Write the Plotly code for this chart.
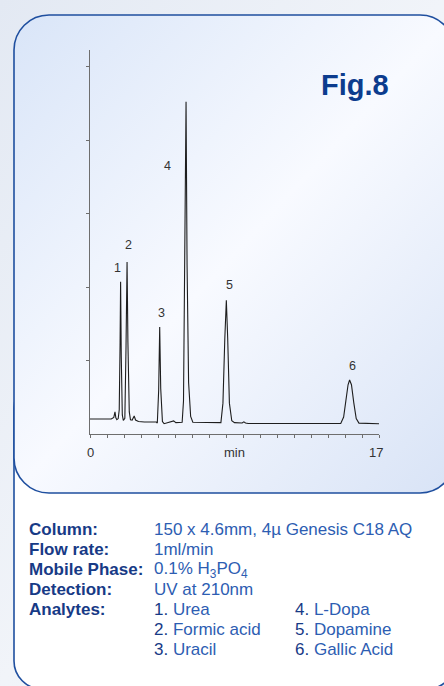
import base64
import plotly.graph_objects as go

W, H = 444, 686

# Chromatogram trace: retention time (min) and detector response (arbitrary units)
time_min = [
    0.00, 1.25, 1.40, 1.47, 1.52, 1.58, 1.66,
    1.72, 1.77, 1.80, 1.84, 1.90, 1.96, 2.05,
    2.12, 2.18, 2.23, 2.31, 2.38, 2.48, 2.60, 2.68, 2.85, 3.20,
    3.90, 3.96, 4.04, 4.10, 4.16, 4.26, 4.36, 4.60, 4.92, 5.05, 5.42,
    5.50, 5.58, 5.65, 5.71, 5.80, 5.92, 6.05,
    7.70, 7.82, 7.93, 8.02, 8.10, 8.20, 8.34, 8.50,
    8.95, 9.05, 9.15, 9.30,
    14.75, 14.92, 15.05, 15.18, 15.27, 15.38, 15.52, 15.66, 15.82, 17.00,
]
signal = [
    0.205, 0.205, 0.225, 0.300, 0.220, 0.195, 0.210,
    0.330, 1.250, 2.070, 1.050, 0.260, 0.185, 0.215,
    1.200, 2.340, 1.250, 0.300, 0.195, 0.190, 0.245, 0.190, 0.170, 0.163,
    0.163, 0.150, 0.600, 1.456, 0.620, 0.170, 0.140, 0.155, 0.178, 0.155, 0.160,
    0.450, 2.400, 4.520, 2.300, 0.700, 0.240, 0.160,
    0.155, 0.420, 1.300, 1.820, 1.300, 0.420, 0.180, 0.155,
    0.150, 0.165, 0.150, 0.142,
    0.142, 0.230, 0.450, 0.670, 0.735, 0.670, 0.420, 0.210, 0.148, 0.140,
]

# Peak numbering labels
peak_ids = ["1", "2", "3", "4", "5", "6"]
peak_label_time = [1.59, 2.29, 4.18, 4.53, 8.18, 15.47]
peak_label_signal = [2.26, 2.57, 1.65, 3.65, 2.03, 0.92]

# Time axis
time_ticks = list(range(0, 18))
time_axis_labels = ["0", "min", "17"]
time_axis_label_pos = [0, 8.5, 16.8]
signal_ticks = [1, 2, 3, 4, 5]

# Method conditions
info_labels = ["Column:", "Flow rate:", "Mobile Phase:", "Detection:", "Analytes:"]
info_values = [
    "150 x 4.6mm, 4\u00b5 Genesis C18 AQ",
    "1ml/min",
    "0.1% H<sub>3</sub>PO<sub>4</sub>",
    "UV at 210nm",
    "",
]
analytes = ["Urea", "Formic acid", "Uracil", "L-Dopa", "Dopamine", "Gallic Acid"]

NAVY = "#173a86"
BLUE = "#2d5db2"
BORDER = "#1f4f9f"
FONT = "Liberation Sans, Arial, Helvetica, sans-serif"


def fx(x):
    return x / W


def fy(y):
    return 1 - y / H


# Rounded panels with soft gradient, drawn as a background image
svg = f"""<svg xmlns='http://www.w3.org/2000/svg' width='{W}' height='{H}' viewBox='0 0 {W} {H}'>
<defs>
<linearGradient id='bg' x1='0' y1='0' x2='1' y2='1'>
<stop offset='0' stop-color='#e3e9f3'/><stop offset='0.5' stop-color='#f1f4f9'/><stop offset='1' stop-color='#e8edf5'/>
</linearGradient>
<linearGradient id='pg' x1='0' y1='0' x2='1' y2='1'>
<stop offset='0' stop-color='#d9e5f8'/><stop offset='0.5' stop-color='#f8faff'/><stop offset='1' stop-color='#d8e3f6'/>
</linearGradient>
</defs>
<rect width='{W}' height='{H}' fill='url(#bg)'/>
<rect x='14' y='380' width='441' height='309' rx='28' fill='#ffffff' stroke='{BORDER}' stroke-width='1.6'/>
<rect x='14' y='15' width='441' height='478' rx='35' fill='url(#pg)' stroke='{BORDER}' stroke-width='1.6'/>
</svg>"""
svg_uri = "data:image/svg+xml;base64," + base64.b64encode(svg.encode()).decode()

fig = go.Figure()
fig.add_trace(go.Scatter(
    x=time_min, y=signal, mode="lines",
    line=dict(color="#1e1e1e", width=1.1),
    hoverinfo="skip", showlegend=False,
))

annotations = []
for pid, t, s in zip(peak_ids, peak_label_time, peak_label_signal):
    annotations.append(dict(
        x=t, y=s, xref="x", yref="y", text=pid, showarrow=False,
        font=dict(family=FONT, size=12.5, color="#333333"),
        xanchor="center", yanchor="middle",
    ))

for lbl, pos in zip(time_axis_labels, time_axis_label_pos):
    annotations.append(dict(
        x=pos, y=fy(452), xref="x", yref="paper", text=lbl, showarrow=False,
        font=dict(family=FONT, size=13, color="#333333"),
        xanchor="center", yanchor="middle",
    ))

annotations.append(dict(
    x=fx(355), y=fy(85), xref="paper", yref="paper", text="<b>Fig.8</b>",
    showarrow=False, font=dict(family=FONT, size=29, color="#0c3c8e"),
    xanchor="center", yanchor="middle",
))

row_y = [529.5 + 20 * i for i in range(7)]
for i, (lbl, val) in enumerate(zip(info_labels, info_values)):
    annotations.append(dict(
        x=fx(27), y=fy(row_y[i]), xref="paper", yref="paper",
        text=f"<b>{lbl}</b>", showarrow=False,
        font=dict(family=FONT, size=17, color=NAVY),
        xanchor="left", yanchor="middle",
    ))
    if val:
        annotations.append(dict(
            x=fx(152), y=fy(row_y[i]), xref="paper", yref="paper",
            text=val, showarrow=False,
            font=dict(family=FONT, size=17, color=BLUE),
            xanchor="left", yanchor="middle",
        ))

for k, name in enumerate(analytes):
    col_x = 152 if k < 3 else 293
    r = 4 + (k % 3)
    annotations.append(dict(
        x=fx(col_x), y=fy(row_y[r]), xref="paper", yref="paper",
        text=f"<span style='color:{NAVY}'>{k + 1}.</span> {name}",
        showarrow=False, font=dict(family=FONT, size=17, color=BLUE),
        xanchor="left", yanchor="middle",
    ))

fig.update_layout(
    width=W, height=H, autosize=False,
    margin=dict(l=0, r=0, t=0, b=0),
    paper_bgcolor="#ffffff", plot_bgcolor="rgba(0,0,0,0)",
    showlegend=False,
    images=[dict(
        source=svg_uri, xref="paper", yref="paper", x=0, y=1,
        sizex=1, sizey=1, sizing="stretch", xanchor="left", yanchor="top",
        layer="below",
    )],
    annotations=annotations,
    xaxis=dict(
        domain=[fx(90), fx(379)], range=[0, 17],
        showgrid=False, zeroline=False,
        showline=True, linecolor="#6e6e6e", linewidth=1.3,
        tickvals=time_ticks, ticks="outside", ticklen=3, tickwidth=1,
        tickcolor="#6e6e6e", showticklabels=False,
    ),
    yaxis=dict(
        domain=[fy(434), fy(50)], range=[0, 384 / 73.5],
        showgrid=False, zeroline=False,
        showline=True, linecolor="#6e6e6e", linewidth=1.3,
        tickvals=signal_ticks, ticks="outside", ticklen=2.5, tickwidth=1,
        tickcolor="#6e6e6e", showticklabels=False,
    ),
)

fig.write_html("out.html")
